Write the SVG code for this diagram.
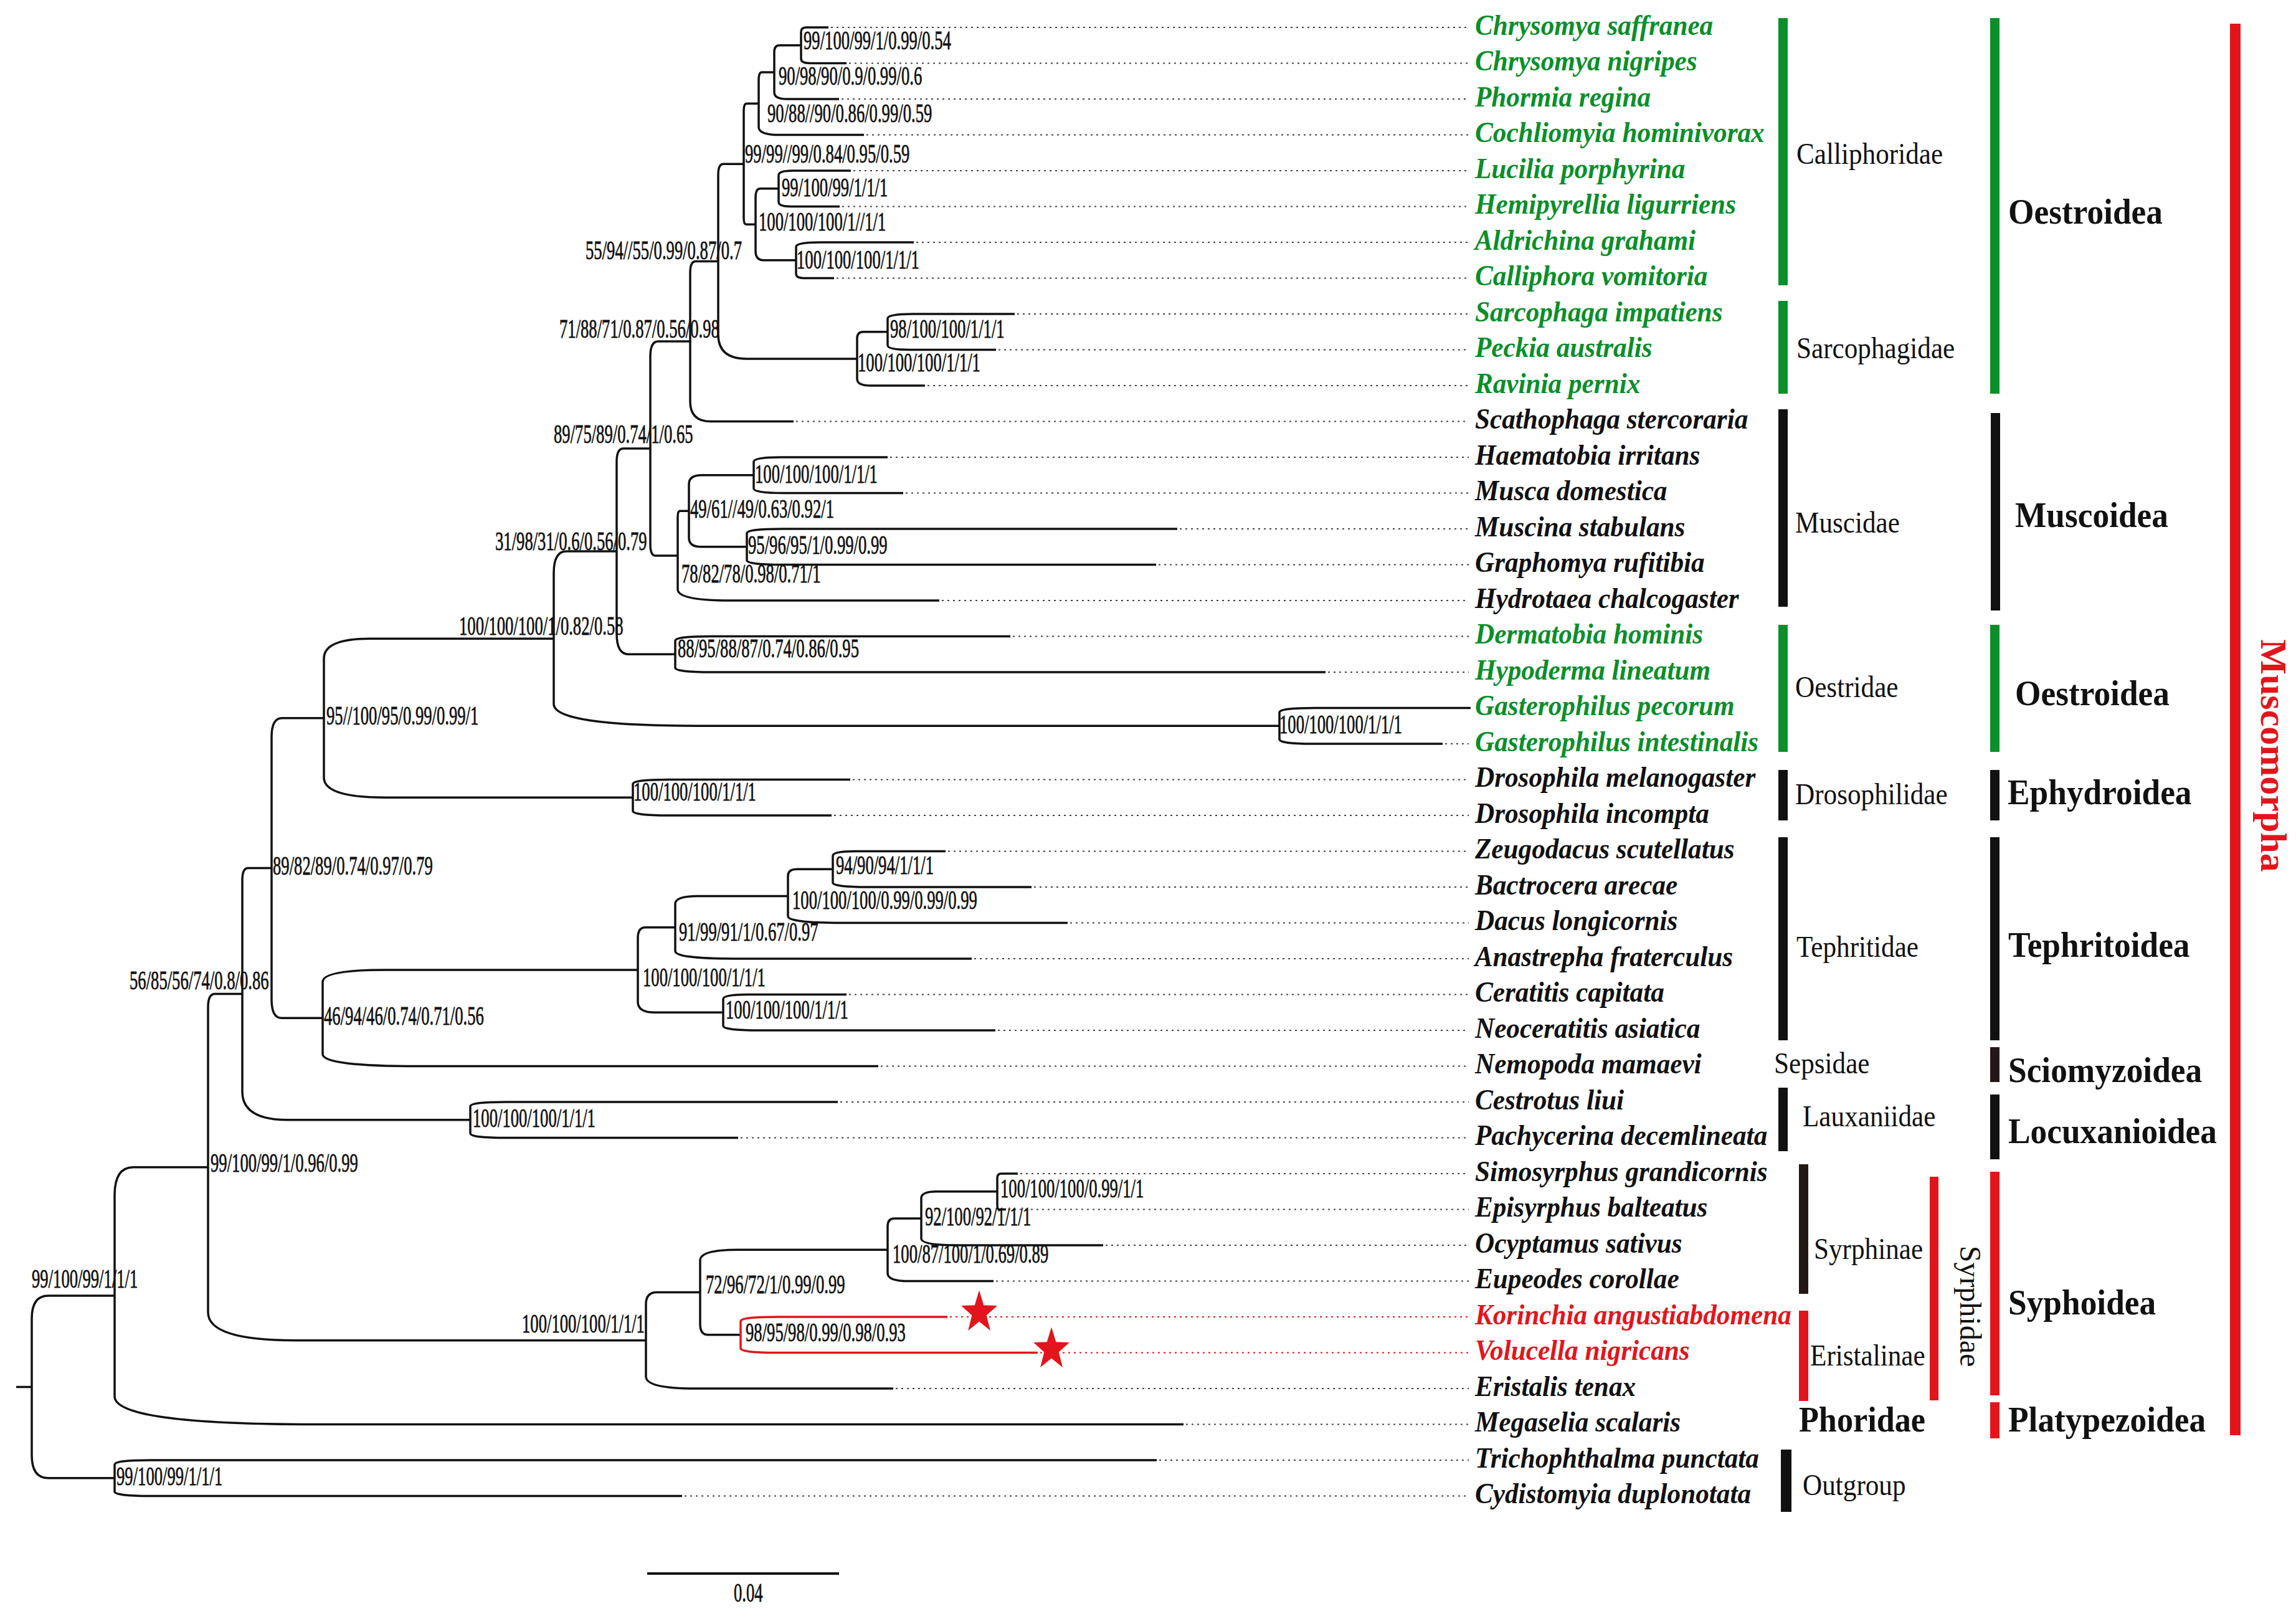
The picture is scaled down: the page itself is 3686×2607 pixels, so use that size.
<svg xmlns="http://www.w3.org/2000/svg" width="3686" height="2607" viewBox="0 0 3686 2607">
<style>
.br{fill:none;stroke:#111;stroke-width:3.5;stroke-linecap:butt}
.brr{fill:none;stroke:#e3151c;stroke-width:3.5}
.dot{fill:none;stroke:#444;stroke-width:2.2;stroke-dasharray:3 6}
.dotr{fill:none;stroke:#e3151c;stroke-width:2.2;stroke-dasharray:3 6}
.sp{font-family:"Liberation Serif","Times New Roman",serif;font-size:47px;font-weight:bold;font-style:italic;fill:#111;transform-box:fill-box;transform-origin:0 50%;transform:scaleX(0.92)}
.g{fill:#0a8f2a}
.r{fill:#e3151c}
.nl{font-family:"Liberation Serif","Times New Roman",serif;font-size:43px;fill:#111;stroke:#111;stroke-width:0.8;transform-box:fill-box;transform-origin:0 50%;transform:scaleX(0.62)}
.fam{font-family:"Liberation Serif","Times New Roman",serif;font-size:48px;fill:#111;transform-box:fill-box;transform-origin:0 50%;transform:scaleX(0.9)}
.sup{font-family:"Liberation Serif","Times New Roman",serif;font-size:58px;font-weight:bold;fill:#111;transform-box:fill-box;transform-origin:0 50%;transform:scaleX(0.92)}
.bk{fill:#111}.gb{fill:#0a8f2a}.rb{fill:#e3151c}.db{fill:#231815}
</style>
<defs>
<polygon id="star" points="0,-32 7.64,-10.52 30.44,-9.89 12.36,4.02 18.81,25.89 0,13 -18.81,25.89 -12.36,4.02 -30.44,-9.89 -7.64,-10.52" fill="#e3151c"/>
</defs>
<rect width="3686" height="2607" fill="#fff"/>
<g id="connectors">
<path class="dot" d="M1334,44H2358M1363,101.5H2358M1351,159H2358M1391,216.5H2358M1370,274H2358M1352,331.5H2358M1471,389H2358M1343,446.5H2358M1633,504H2358M1603,561.5H2358M1489,619H2358M1278,676.5H2358M1429,734H2358M1454,791.5H2358M1894,849H2358M1860,906.5H2358M1512,964H2358M1626,1021.5H2358M2132,1079H2358M2320,1194H2358M1369,1251.5H2358M1339,1309H2358M1522,1366.5H2358M1660,1424H2358M1718,1481.5H2358M1564,1539H2358M1363,1596.5H2358M1602,1654H2358M1414,1711.5H2358M1349,1769H2358M1189,1826.5H2358M1638,1884H2358M1619,1941.5H2358M1775,1999H2358M1599,2056.5H2358M1438,2229H2358M1904,2286.5H2358M1861,2344H2358M1099,2401.5H2358"/>
<path class="dotr" d="M1525,2114H2358M1670,2171.5H2358"/>
<path class="br" d="M26,2226.4H51
M51,2226.4V2116.7Q51,2080.1 77.6,2080.1H184
M51,2226.4V2336.2Q51,2372.75 77.6,2372.75H184
M184,2080.1V1918.7Q184,1873.7 214,1873.7H334
M184,2080.1V2241.5Q184,2286.5 504,2286.5H1900
M184,2372.75V2351.2Q184,2344 241.5,2344H1857
M184,2372.75V2394.3Q184,2401.5 241.5,2401.5H1095
M334,1873.7V1617.1Q334,1595.6 345,1595.6H389
M334,1873.7V2106.75Q334,2151.75 474.6,2151.75H1037
M389,1595.6V1412.6Q389,1393.5 398.4,1393.5H436
M389,1595.6V1752.75Q389,1797.75 462.2,1797.75H755
M755,1797.75V1776.2Q755,1769 812.5,1769H1345
M755,1797.75V1819.3Q755,1826.5 812.5,1826.5H1185
M436,1393.5V1182.9Q436,1152.7 452.8,1152.7H520
M436,1393.5V1604.65Q436,1634.25 452.4,1634.25H518
M520,1152.7V1057.1Q520,1025.2 593.8,1025.2H889
M520,1152.7V1248.35Q520,1280.25 619.2,1280.25H1016
M1016,1280.25V1258.7Q1016,1251.5 1073.5,1251.5H1365
M1016,1280.25V1301.8Q1016,1309 1073.5,1309H1335
M889,1025.2V920.1Q889,885.1 909.2,885.1H990
M889,1025.2V1130.25Q889,1165.25 1122,1165.25H2054
M2054,1165.25V1143.7Q2054,1136.5 2111.5,1136.5H2361
M2054,1165.25V1186.8Q2054,1194 2106.4,1194H2316
M990,885.1V741.2Q990,720 1000.8,720H1044
M990,885.1V1017.05Q990,1050.25 1008.8,1050.25H1084
M1084,1050.25V1028.7Q1084,1021.5 1141.5,1021.5H1622
M1084,1050.25V1071.8Q1084,1079 1141.5,1079H2128
M1044,720V572.2Q1044,548 1056.8,548H1108
M1044,720V873.9Q1044,892.1 1052.8,892.1H1088
M1088,892.1V830.65Q1088,820.25 1091.6,820.25H1106
M1088,892.1V946Q1088,964 1172,964H1508
M1106,820.25V777.15Q1106,762.75 1126.8,762.75H1210
M1106,820.25V863.35Q1106,877.75 1124.6,877.75H1199
M1210,762.75V741.2Q1210,734 1253,734H1425
M1210,762.75V784.3Q1210,791.5 1258,791.5H1450
M1199,877.75V856.2Q1199,849 1256.5,849H1890
M1199,877.75V899.3Q1199,906.5 1256.5,906.5H1856
M1108,548V438Q1108,419.5 1117,419.5H1153
M1108,548V644.4Q1108,676.5 1141.2,676.5H1274
M1153,419.5V280.5Q1153,263.2 1161.2,263.2H1194
M1153,419.5V536.8Q1153,575.9 1197.6,575.9H1376
M1376,575.9V543.55Q1376,532.75 1385.8,532.75H1425
M1376,575.9V608.2Q1376,619 1397.8,619H1485
M1425,532.75V511.2Q1425,504 1465.8,504H1629
M1425,532.75V554.3Q1425,561.5 1459.8,561.5H1599
M1194,263.2V178.4Q1194,166.2 1198.8,166.2H1218
M1194,263.2V349.55Q1194,360.25 1197.8,360.25H1213
M1218,166.2V128.4Q1218,115.9 1223,115.9H1243
M1218,166.2V203.9Q1218,216.5 1251.8,216.5H1387
M1243,115.9V83.55Q1243,72.75 1251.6,72.75H1286
M1243,115.9V148.2Q1243,159 1263.8,159H1347
M1286,72.75V51.2Q1286,44 1294.8,44H1330
M1286,72.75V94.3Q1286,101.5 1300.6,101.5H1359
M1213,360.25V317.15Q1213,302.75 1220.4,302.75H1250
M1213,360.25V403.35Q1213,417.75 1226,417.75H1278
M1250,302.75V281.2Q1250,274 1273.2,274H1366
M1250,302.75V324.3Q1250,331.5 1269.6,331.5H1348
M1278,417.75V396.2Q1278,389 1315.8,389H1467
M1278,417.75V439.3Q1278,446.5 1290.2,446.5H1339
M518,1634.25V1576.3Q518,1557 619.2,1557H1024
M518,1634.25V1692.2Q518,1711.5 672.5,1711.5H1410
M1024,1557V1505.8Q1024,1488.7 1036,1488.7H1084
M1024,1557V1608.15Q1024,1625.25 1051.4,1625.25H1161
M1084,1488.7V1451Q1084,1438.4 1120.2,1438.4H1265
M1084,1488.7V1526.4Q1084,1539 1179.2,1539H1560
M1265,1438.4V1406.05Q1265,1395.25 1279.4,1395.25H1337
M1265,1438.4V1470.7Q1265,1481.5 1351.2,1481.5H1714
M1337,1395.25V1373.7Q1337,1366.5 1373.2,1366.5H1518
M1337,1395.25V1416.8Q1337,1424 1394.5,1424H1656
M1161,1625.25V1603.7Q1161,1596.5 1200.6,1596.5H1359
M1161,1625.25V1646.8Q1161,1654 1218.5,1654H1598
M1037,2151.75V2093.8Q1037,2074.5 1054.4,2074.5H1124
M1037,2151.75V2209.7Q1037,2229 1116.4,2229H1434
M1124,2074.5V2023.3Q1124,2006.2 1184.2,2006.2H1425
M1124,2074.5V2125.65Q1124,2142.75 1137,2142.75H1189
M1425,2006.2V1968.5Q1425,1955.9 1435.8,1955.9H1479
M1425,2006.2V2043.9Q1425,2056.5 1459,2056.5H1595
M1479,1955.9V1923.55Q1479,1912.75 1503.4,1912.75H1601
M1479,1955.9V1988.2Q1479,1999 1537.4,1999H1771
M1601,1912.75V1891.2Q1601,1884 1607.6,1884H1634
M1601,1912.75V1934.3Q1601,1941.5 1603.8,1941.5H1615"/>
<path class="brr" d="M1189,2142.75V2121.2Q1189,2114 1246.5,2114H1521M1189,2142.75V2164.3Q1189,2171.5 1246.5,2171.5H1666"/>
</g>
<g id="stars">
<use href="#star" transform="translate(1572,2107) scale(0.95,1.12)"/>
<use href="#star" transform="translate(1688,2166) scale(0.95,1.12)"/>
</g>
<g id="taxa">
<g id="t1"><text class="sp g" x="2368" y="56">Chrysomya saffranea</text></g>
<g id="t2"><text class="sp g" x="2368" y="113.5">Chrysomya nigripes</text></g>
<g id="t3"><text class="sp g" x="2368" y="171">Phormia regina</text></g>
<g id="t4"><text class="sp g" x="2368" y="228.5">Cochliomyia hominivorax</text></g>
<g id="t5"><text class="sp g" x="2368" y="286">Lucilia porphyrina</text></g>
<g id="t6"><text class="sp g" x="2368" y="343.5">Hemipyrellia ligurriens</text></g>
<g id="t7"><text class="sp g" x="2368" y="401">Aldrichina grahami</text></g>
<g id="t8"><text class="sp g" x="2368" y="458.5">Calliphora vomitoria</text></g>
<g id="t9"><text class="sp g" x="2368" y="516">Sarcophaga impatiens</text></g>
<g id="t10"><text class="sp g" x="2368" y="573.5">Peckia australis</text></g>
<g id="t11"><text class="sp g" x="2368" y="631">Ravinia pernix</text></g>
<g id="t12"><text class="sp" x="2368" y="688.5">Scathophaga stercoraria</text></g>
<g id="t13"><text class="sp" x="2368" y="746">Haematobia irritans</text></g>
<g id="t14"><text class="sp" x="2368" y="803.5">Musca domestica</text></g>
<g id="t15"><text class="sp" x="2368" y="861">Muscina stabulans</text></g>
<g id="t16"><text class="sp" x="2368" y="918.5">Graphomya rufitibia</text></g>
<g id="t17"><text class="sp" x="2368" y="976">Hydrotaea chalcogaster</text></g>
<g id="t18"><text class="sp g" x="2368" y="1033.5">Dermatobia hominis</text></g>
<g id="t19"><text class="sp g" x="2368" y="1091">Hypoderma lineatum</text></g>
<g id="t20"><text class="sp g" x="2368" y="1148.5">Gasterophilus pecorum</text></g>
<g id="t21"><text class="sp g" x="2368" y="1206">Gasterophilus intestinalis</text></g>
<g id="t22"><text class="sp" x="2368" y="1263.5">Drosophila melanogaster</text></g>
<g id="t23"><text class="sp" x="2368" y="1321">Drosophila incompta</text></g>
<g id="t24"><text class="sp" x="2368" y="1378.5">Zeugodacus scutellatus</text></g>
<g id="t25"><text class="sp" x="2368" y="1436">Bactrocera arecae</text></g>
<g id="t26"><text class="sp" x="2368" y="1493.5">Dacus longicornis</text></g>
<g id="t27"><text class="sp" x="2368" y="1551">Anastrepha fraterculus</text></g>
<g id="t28"><text class="sp" x="2368" y="1608.5">Ceratitis capitata</text></g>
<g id="t29"><text class="sp" x="2368" y="1666">Neoceratitis asiatica</text></g>
<g id="t30"><text class="sp" x="2368" y="1723.5">Nemopoda mamaevi</text></g>
<g id="t31"><text class="sp" x="2368" y="1781">Cestrotus liui</text></g>
<g id="t32"><text class="sp" x="2368" y="1838.5">Pachycerina decemlineata</text></g>
<g id="t33"><text class="sp" x="2368" y="1896">Simosyrphus grandicornis</text></g>
<g id="t34"><text class="sp" x="2368" y="1953.5">Episyrphus balteatus</text></g>
<g id="t35"><text class="sp" x="2368" y="2011">Ocyptamus sativus</text></g>
<g id="t36"><text class="sp" x="2368" y="2068.5">Eupeodes corollae</text></g>
<g id="t37"><text class="sp r" x="2368" y="2126">Korinchia angustiabdomena</text></g>
<g id="t38"><text class="sp r" x="2368" y="2183.5">Volucella nigricans</text></g>
<g id="t39"><text class="sp" x="2368" y="2241">Eristalis tenax</text></g>
<g id="t40"><text class="sp" x="2368" y="2298.5">Megaselia scalaris</text></g>
<g id="t41"><text class="sp" x="2368" y="2356">Trichophthalma punctata</text></g>
<g id="t42"><text class="sp" x="2368" y="2413.5">Cydistomyia duplonotata</text></g>
</g>
<g id="support">
<text class="nl" x="1290" y="79">99/100/99/1/0.99/0.54</text>
<text class="nl" x="1250" y="136">90/98/90/0.9/0.99/0.6</text>
<text class="nl" x="1232" y="196">90/88//90/0.86/0.99/0.59</text>
<text class="nl" x="1196" y="261">99/99//99/0.84/0.95/0.59</text>
<text class="nl" x="1255" y="315">99/100/99/1/1/1</text>
<text class="nl" x="1218" y="370">100/100/100/1//1/1</text>
<text class="nl" x="940" y="416">55/94//55/0.99/0.87/0.7</text>
<text class="nl" x="1279" y="431">100/100/100/1/1/1</text>
<text class="nl" x="1429" y="542">98/100/100/1/1/1</text>
<text class="nl" x="1377" y="596">100/100/100/1/1/1</text>
<text class="nl" x="898" y="542">71/88/71/0.87/0.56/0.98</text>
<text class="nl" x="889" y="711">89/75/89/0.74/1/0.65</text>
<text class="nl" x="1212" y="775">100/100/100/1/1/1</text>
<text class="nl" x="1108" y="831">49/61//49/0.63/0.92/1</text>
<text class="nl" x="795" y="883">31/98/31/0.6/0.56/0.79</text>
<text class="nl" x="1201" y="889">95/96/95/1/0.99/0.99</text>
<text class="nl" x="1094" y="935">78/82/78/0.98/0.71/1</text>
<text class="nl" x="737" y="1019">100/100/100/1/0.82/0.58</text>
<text class="nl" x="1088" y="1055">88/95/88/87/0.74/0.86/0.95</text>
<text class="nl" x="1017" y="1285">100/100/100/1/1/1</text>
<text class="nl" x="2054" y="1177">100/100/100/1/1/1</text>
<text class="nl" x="524" y="1163">95//100/95/0.99/0.99/1</text>
<text class="nl" x="438" y="1404">89/82/89/0.74/0.97/0.79</text>
<text class="nl" x="208" y="1588">56/85/56/74/0.8/0.86</text>
<text class="nl" x="520" y="1645">46/94/46/0.74/0.71/0.56</text>
<text class="nl" x="1342" y="1403">94/90/94/1/1/1</text>
<text class="nl" x="1272" y="1459">100/100/100/0.99/0.99/0.99</text>
<text class="nl" x="1090" y="1510">91/99/91/1/0.67/0.97</text>
<text class="nl" x="1032" y="1583">100/100/100/1/1/1</text>
<text class="nl" x="1165" y="1635">100/100/100/1/1/1</text>
<text class="nl" x="1606" y="1922">100/100/100/0.99/1/1</text>
<text class="nl" x="759" y="1809">100/100/100/1/1/1</text>
<text class="nl" x="338" y="1881">99/100/99/1/0.96/0.99</text>
<text class="nl" x="51" y="2067">99/100/99/1/1/1</text>
<text class="nl" x="838" y="2139">100/100/100/1/1/1</text>
<text class="nl" x="1133" y="2076">72/96/72/1/0.99/0.99</text>
<text class="nl" x="1197" y="2153">98/95/98/0.99/0.98/0.93</text>
<text class="nl" x="187" y="2384">99/100/99/1/1/1</text>
<text class="nl" x="1485" y="1967">92/100/92/1/1/1</text>
<text class="nl" x="1433" y="2027">100/87/100/1/0.69/0.89</text>
</g>
<g id="scale">
<path d="M1039,2526H1347" stroke="#111" stroke-width="4"/>
<text class="nl" x="1178" y="2571">0.04</text>
</g>
<g id="families">
<g id="calliphoridae"><rect class="gb" x="2855" y="29" width="15" height="429"/><text class="fam g" x="2884" y="263">Calliphoridae</text></g>
<g id="sarcophagidae"><rect class="gb" x="2855" y="483" width="15" height="149"/><text class="fam g" x="2884" y="575">Sarcophagidae</text></g>
<g id="muscidae"><rect class="bk" x="2855" y="657" width="15" height="317"/><text class="fam" x="2882" y="855">Muscidae</text></g>
<g id="oestridae"><rect class="gb" x="2855" y="1003" width="15" height="204"/><text class="fam g" x="2882" y="1119">Oestridae</text></g>
<g id="drosophilidae"><rect class="bk" x="2855" y="1236" width="15" height="81"/><text class="fam" x="2882" y="1291">Drosophilidae</text></g>
<g id="tephritidae"><rect class="bk" x="2855" y="1344" width="15" height="326"/><text class="fam" x="2884" y="1536">Tephritidae</text></g>
<g id="sepsidae"><text class="fam" x="2848" y="1723">Sepsidae</text></g>
<g id="lauxaniidae"><rect class="bk" x="2855" y="1746" width="15" height="102"/><text class="fam" x="2894" y="1808">Lauxaniidae</text></g>
<g id="syrphinae"><rect class="db" x="2888" y="1869" width="15" height="208"/><text class="fam" x="2912" y="2021">Syrphinae</text></g>
<g id="eristalinae"><rect class="rb" x="2888" y="2104" width="15" height="145"/><text class="fam r" x="2906" y="2192">Eristalinae</text></g>
<g id="syrphidae"><rect class="rb" x="3098" y="1889" width="14" height="359"/><text x="3147" y="2097" transform="rotate(90 3147 2097)" text-anchor="middle" font-family="Liberation Serif, Times New Roman, serif" font-size="48" fill="#111">Syrphidae</text></g>
<g id="phoridae"><text class="sup" x="2888" y="2298" style="transform:scaleX(0.9)">Phoridae</text></g>
<g id="outgroup"><rect class="bk" x="2859" y="2327" width="17" height="100"/><text class="fam" x="2894" y="2400">Outgroup</text></g>
</g>
<g id="superfamilies">
<g id="oestroidea1"><rect class="gb" x="3195" y="29" width="15" height="603"/><text class="sup g" x="3224" y="359">Oestroidea</text></g>
<g id="muscoidea"><rect class="bk" x="3196" y="663" width="15" height="317"/><text class="sup" x="3235" y="846">Muscoidea</text></g>
<g id="oestroidea2"><rect class="gb" x="3195" y="1003" width="15" height="204"/><text class="sup g" x="3235" y="1132">Oestroidea</text></g>
<g id="ephydroidea"><rect class="bk" x="3195" y="1236" width="15" height="81"/><text class="sup" x="3223" y="1291">Ephydroidea</text></g>
<g id="tephritoidea"><rect class="bk" x="3195" y="1344" width="15" height="326"/><text class="sup" x="3224" y="1536">Tephritoidea</text></g>
<g id="sciomyzoidea"><rect class="db" x="3195" y="1681" width="15" height="56"/><text class="sup" x="3224" y="1737">Sciomyzoidea</text></g>
<g id="locuxanioidea"><rect class="bk" x="3195" y="1757" width="15" height="104"/><text class="sup" x="3224" y="1835">Locuxanioidea</text></g>
<g id="syphoidea"><rect class="rb" x="3195" y="1881" width="15" height="359"/><text class="sup" x="3224" y="2110">Syphoidea</text></g>
<g id="platypezoidea"><rect class="rb" x="3195" y="2251" width="15" height="58"/><text class="sup" x="3224" y="2298">Platypezoidea</text></g>
</g>
<g id="muscomorpha">
<rect class="rb" x="3580" y="38" width="17" height="2266"/>
<text x="3630" y="1213" transform="rotate(90 3630 1213)" text-anchor="middle" font-family="Liberation Serif, Times New Roman, serif" font-size="60" font-weight="bold" fill="#e3151c">Muscomorpha</text>
</g>
</svg>
